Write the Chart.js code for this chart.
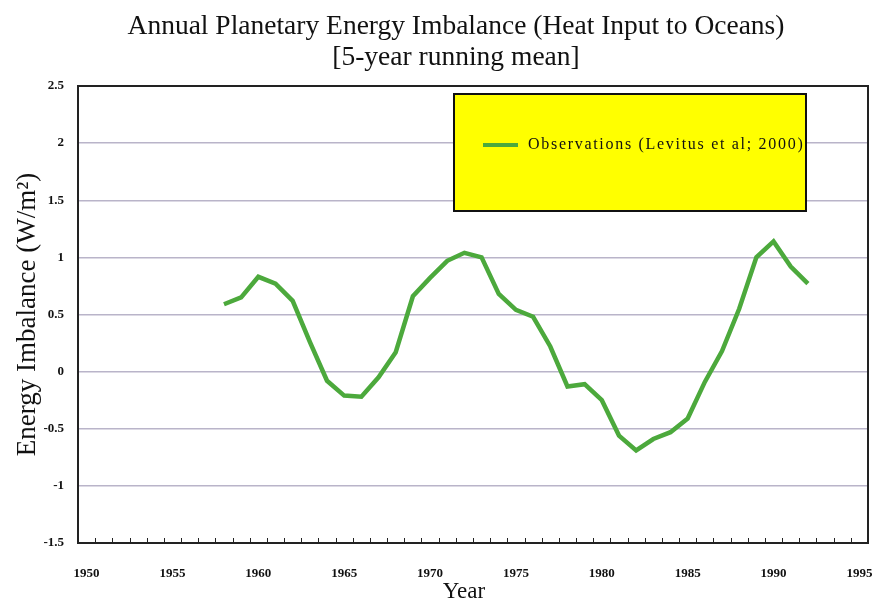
<!DOCTYPE html>
<html>
<head>
<meta charset="utf-8">
<script src="https://cdn.jsdelivr.net/npm/chart.js@4.4.0/dist/chart.umd.min.js"></script>
<style>
  html, body { margin: 0; padding: 0; background: #fff; }
  #wrap { width: 885px; height: 602px; }
</style>
</head>
<body>
<div id="wrap"><canvas id="myChart" width="885" height="602"></canvas></div>
<script>
// category axis: every year, labels shown every 5 years
const years = [1950, 1951, 1952, 1953, 1954, 1955, 1956, 1957, 1958, 1959,
  1960, 1961, 1962, 1963, 1964, 1965, 1966, 1967, 1968, 1969,
  1970, 1971, 1972, 1973, 1974, 1975, 1976, 1977, 1978, 1979,
  1980, 1981, 1982, 1983, 1984, 1985, 1986, 1987, 1988, 1989,
  1990, 1991, 1992, 1993, 1994, 1995];

// Levitus et al. observations, 5-year running mean (W/m2)
const obsYears = [1958, 1959, 1960, 1961, 1962, 1963, 1964, 1965, 1966, 1967,
  1968, 1969, 1970, 1971, 1972, 1973, 1974, 1975, 1976, 1977,
  1978, 1979, 1980, 1981, 1982, 1983, 1984, 1985, 1986, 1987,
  1988, 1989, 1990, 1991, 1992];
const obsValues = [0.59, 0.65, 0.83, 0.77, 0.62, 0.26, -0.08, -0.21, -0.22, -0.05,
  0.17, 0.66, 0.82, 0.97, 1.04, 1.00, 0.68, 0.54, 0.48, 0.22,
  -0.13, -0.11, -0.25, -0.56, -0.69, -0.59, -0.53, -0.41, -0.09, 0.18,
  0.55, 1.00, 1.14, 0.92, 0.77];

const yTicks = [2.5, 2, 1.5, 1, 0.5, 0, -0.5, -1, -1.5];

const titleLines = ["Annual Planetary Energy Imbalance (Heat Input to Oceans)", "[5-year running mean]"];
const xTitle = "Year";

const serif = "'Liberation Serif', 'DejaVu Serif', serif";

// titles, frame, inner tick marks and the yellow legend box
const frame = {
  id: "frame",
  afterDatasetsDraw(chart) {
    const { ctx, chartArea: a } = chart;
    const step = (a.right - a.left) / years.length;
    ctx.save();
    ctx.strokeStyle = "#222";
    ctx.lineWidth = 1;
    ctx.beginPath();
    for (let i = 1; i < years.length; i++) {
      const px = Math.round(a.left + i * step) + 0.5;
      ctx.moveTo(px, a.bottom);
      ctx.lineTo(px, a.bottom - 5);
    }
    ctx.stroke();
    ctx.lineWidth = 2;
    ctx.strokeRect(a.left, a.top, a.right - a.left, a.bottom - a.top);

    // titles
    ctx.fillStyle = "#111";
    ctx.font = "27.5px " + serif;
    ctx.textAlign = "center";
    ctx.textBaseline = "middle";
    ctx.fillText(titleLines[0], 456, 27);
    ctx.fillText(titleLines[1], 456, 58);
    ctx.font = "23px " + serif;
    ctx.fillText(xTitle, 464, 592);

    // legend
    const ds = chart.data.datasets[0];
    const bx = 454, by = 94, bw = 352, bh = 117;
    ctx.fillStyle = "#ffff00";
    ctx.fillRect(bx, by, bw, bh);
    ctx.lineWidth = 2;
    ctx.strokeStyle = "#111";
    ctx.strokeRect(bx, by, bw, bh);
    ctx.strokeStyle = ds.borderColor;
    ctx.lineWidth = 4;
    ctx.beginPath();
    ctx.moveTo(bx + 29, by + 51);
    ctx.lineTo(bx + 64, by + 51);
    ctx.stroke();
    ctx.fillStyle = "#111";
    ctx.font = "16px " + serif;
    ctx.letterSpacing = "1.7px";
    ctx.textAlign = "left";
    ctx.fillText(ds.label, bx + 74, by + 51);
    ctx.restore();
  },
};

new Chart(document.getElementById("myChart"), {
  type: "line",
  plugins: [frame],
  data: {
    labels: years.map(String),
    datasets: [
      {
        label: "Observations (Levitus et al; 2000)",
        data: obsYears.map((yr, i) => ({ x: String(yr), y: obsValues[i] })),
        borderColor: "#4ca93c",
        borderWidth: 4.5,
        pointRadius: 0,
        tension: 0,
        fill: false,
      },
    ],
  },
  options: {
    responsive: false,
    animation: false,
    layout: { padding: { left: 0, right: 17, top: 86, bottom: 0 } },
    plugins: {
      legend: { display: false },
      tooltip: { enabled: false },
      title: { display: false },
    },
    scales: {
      x: {
        type: "category",
        offset: true,
        grid: { display: false, drawTicks: false },
        border: { display: false },
        ticks: {
          autoSkip: false,
          maxRotation: 0,
          padding: 23,
          color: "#111",
          font: { family: serif, size: 13, weight: "bold" },
          callback: function (val, idx) {
            const yr = years[idx];
            return yr % 5 === 0 ? String(yr) : "";
          },
        },
        title: { display: false },
        afterFit(scale) {
          scale.height = 59;
          scale.paddingLeft = 0;
          scale.paddingRight = 0;
        },
      },
      y: {
        min: -1.5,
        max: 2.5,
        afterBuildTicks(scale) { scale.ticks = yTicks.map((v) => ({ value: v })); },
        grid: { color: "#b9b4c9", lineWidth: 1.5, drawTicks: false },
        border: { display: false },
        ticks: {
          padding: 14,
          color: "#111",
          font: { family: serif, size: 13, weight: "bold" },
          callback: (v) => String(v),
        },
        title: {
          display: true,
          text: "Energy Imbalance (W/m²)",
          color: "#111",
          font: { family: serif, size: 27, lineHeight: 1 },
          padding: { top: 14, bottom: 0 },
        },
        afterFit(scale) {
          scale.width = 78;
          scale.paddingTop = 0;
          scale.paddingBottom = 0;
        },
      },
    },
  },
});
</script>
</body>
</html>
